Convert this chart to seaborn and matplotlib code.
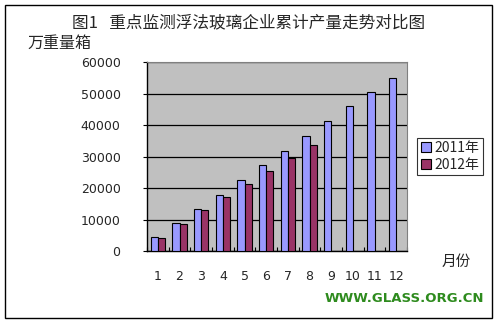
import matplotlib
matplotlib.use("Agg")
import matplotlib.pyplot as plt
import seaborn as sns
import pandas as pd
from matplotlib.patches import Rectangle
from matplotlib.ticker import FixedLocator

months = [str(m) for m in range(1, 13)]
series_names = ["2011年", "2012年"]
values_2011 = [4300, 8800, 13250, 17700, 22500, 27250, 31700, 36500, 41250, 46000, 50500, 54900]
values_2012 = [4250, 8500, 12950, 17100, 21200, 25350, 29500, 33600]
y_ticks = [0, 10000, 20000, 30000, 40000, 50000, 60000]

rows = []
for m, v in zip(months, values_2011):
    rows.append({"月份": m, "年": series_names[0], "产量": v})
for m, v in zip(months, values_2012):
    rows.append({"月份": m, "年": series_names[1], "产量": v})
df = pd.DataFrame(rows)

sns.set_theme(style="white")
plt.rcParams["font.family"] = ["Noto Sans CJK SC", "DejaVu Sans"]

fig = plt.figure(figsize=(4.97, 3.23), dpi=100)
ax = fig.add_axes([0.2958, 0.2229, 0.5232, 0.5851])
ax.set_facecolor("#C0C0C0")

sns.barplot(data=df, x="月份", y="产量", hue="年", order=months,
            hue_order=series_names, palette=["#9999FF", "#993366"],
            width=0.65, edgecolor="black", linewidth=0.8, saturation=1,
            ax=ax, zorder=3, legend=True)

ax.set_ylim(0, 60000)
ax.set_xlim(-0.5, 11.5)
ax.set_yticks(y_ticks)
ax.set_yticklabels([str(t) for t in y_ticks], fontsize=9, family=["DejaVu Sans"])
ax.yaxis.grid(True, color="black", linewidth=0.9, zorder=0)
ax.set_axisbelow(True)
ax.set_xlabel("")
ax.set_ylabel("")
ax.tick_params(axis="x", which="major", length=0, pad=14, labelsize=9)
for lbl in ax.get_xticklabels():
    lbl.set_family(["DejaVu Sans"])
ax.xaxis.set_minor_locator(FixedLocator([i + 0.5 for i in range(-1, 12)]))
ax.tick_params(axis="x", which="minor", direction="in", length=3, color="black", width=0.8, bottom=True)
ax.tick_params(axis="y", which="major", direction="out", length=3, color="black", width=0.8, left=True, pad=16)

for side in ["left", "bottom"]:
    ax.spines[side].set_color("black")
    ax.spines[side].set_linewidth(1.0)
for side in ["top", "right"]:
    ax.spines[side].set_color("#808080")
    ax.spines[side].set_linewidth(0.8)

leg = ax.legend(loc="center left", bbox_to_anchor=(1.04, 0.5), fontsize=10,
                frameon=True, fancybox=False, edgecolor="black",
                handlelength=0.7, handleheight=0.7, handletextpad=0.3,
                borderpad=0.25, labelspacing=0.2, borderaxespad=0)
leg.get_frame().set_linewidth(0.8)

fig.text(0.5, 0.93, "图1   重点监测浮法玻璃企业累计产量走势对比图", ha="center", va="center", fontsize=12)
fig.text(0.055, 0.865, "万重量箱", ha="left", va="center", fontsize=11.5)
fig.text(0.888, 0.188, "月份", ha="left", va="center", fontsize=10.5)
fig.text(0.975, 0.077, "WWW.GLASS.ORG.CN", ha="right", va="center", fontsize=9.5,
         fontweight="bold", color="#2E8B1E", family=["DejaVu Sans"])

fig.patches.append(Rectangle((0.01, 0.015), 0.98, 0.97, transform=fig.transFigure,
                             fill=False, edgecolor="black", linewidth=1.0))

fig.savefig("out.png", dpi=100)
